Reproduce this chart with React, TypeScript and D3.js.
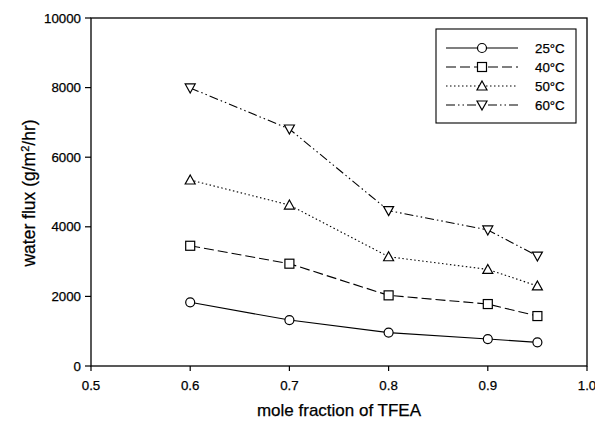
import React from "react";
import * as d3 from "d3";

// mole fraction of TFEA
const moleFractions = [0.6, 0.7, 0.8, 0.9, 0.95];

// water flux (g/m2/hr) per temperature
const flux25 = [1830, 1320, 960, 775, 680];
const flux40 = [3455, 2940, 2030, 1780, 1435];
const flux50 = [5345, 4625, 3140, 2775, 2300];
const flux60 = [7990, 6810, 4465, 3910, 3160];

const seriesNames = ["25°C", "40°C", "50°C", "60°C"];
const xTicks = [0.5, 0.6, 0.7, 0.8, 0.9, 1.0];
const xTickLabels = ["0.5", "0.6", "0.7", "0.8", "0.9", "1.0"];
const yTicks = [0, 2000, 4000, 6000, 8000, 10000];

const width = 595;
const height = 423;
const margin = { top: 18, right: 8, bottom: 57, left: 91 };
const font = "'Liberation Sans', Arial, sans-serif";

const dashes = ["none", "10 4", "1.5 2.5", "9 3 1.5 3 1.5 3"];
const markers = ["circle", "square", "triangle", "triangleDown"];

function Marker({ kind, x, y }) {
    const s = 4.5;
    const common = { fill: "white", stroke: "black", strokeWidth: 1.2 };
    if (kind === "circle") return <circle cx={x} cy={y} r={s} {...common} />;
    if (kind === "square")
        return <rect x={x - s} y={y - s} width={2 * s} height={2 * s} {...common} />;
    if (kind === "triangle")
        return (
            <path
                d={`M${x},${y - s - 0.5}L${x + s + 0.5},${y + s - 0.5}L${x - s - 0.5},${y + s - 0.5}Z`}
                {...common}
            />
        );
    return (
        <path
            d={`M${x},${y + s + 0.5}L${x + s + 0.5},${y - s + 0.5}L${x - s - 0.5},${y - s + 0.5}Z`}
            {...common}
        />
    );
}

export default function App() {
    const innerW = width - margin.left - margin.right;
    const innerH = height - margin.top - margin.bottom;

    const xScale = d3.scaleLinear().domain([0.5, 1.0]).range([0, innerW]);
    const yScale = d3.scaleLinear().domain([0, 10000]).range([innerH, 0]);

    const line = d3
        .line<number>()
        .x((d, i) => xScale(moleFractions[i]))
        .y((d) => yScale(d));

    const allSeries = [flux25, flux40, flux50, flux60];

    const legend = { x: 436 - margin.left, y: 29 - margin.top, w: 140, h: 94 };
    const textStyle = { stroke: "black", strokeWidth: 0.25 };

    return (
        <svg
            width={width}
            height={height}
            style={{ position: "absolute", left: 0, top: 0, background: "white" }}
        >
            <g transform={`translate(${margin.left},${margin.top})`} fontFamily={font}>
                {/* frame */}
                <rect x={0} y={0} width={innerW} height={innerH} fill="none" stroke="black" strokeWidth={1.3} />

                {/* y ticks */}
                {yTicks.map((t) => (
                    <g key={t} transform={`translate(0,${yScale(t)})`}>
                        <line x1={-6} x2={0} stroke="black" strokeWidth={1.2} />
                        <text x={-10} dy="0.35em" textAnchor="end" fontSize={13.3} {...textStyle}>
                            {t}
                        </text>
                    </g>
                ))}

                {/* x ticks */}
                {xTicks.map((t, i) => (
                    <g key={t} transform={`translate(${xScale(t)},${innerH})`}>
                        <line y1={0} y2={5} stroke="black" strokeWidth={1.2} />
                        <text y={19} dy="0.35em" textAnchor="middle" fontSize={13.3} {...textStyle}>
                            {xTickLabels[i]}
                        </text>
                    </g>
                ))}

                {/* series */}
                {allSeries.map((vals, si) => (
                    <g key={si}>
                        <path
                            d={line(vals) || ""}
                            fill="none"
                            stroke="black"
                            strokeWidth={1.1}
                            strokeDasharray={dashes[si]}
                        />
                        {vals.map((v, i) => (
                            <Marker key={i} kind={markers[si]} x={xScale(moleFractions[i])} y={yScale(v)} />
                        ))}
                    </g>
                ))}

                {/* legend */}
                <g transform={`translate(${legend.x},${legend.y})`}>
                    <rect width={legend.w} height={legend.h} fill="white" stroke="black" strokeWidth={1.1} />
                    {seriesNames.map((name, i) => {
                        const ly = 19 + i * 19;
                        return (
                            <g key={name}>
                                <line
                                    x1={10}
                                    x2={82}
                                    y1={ly}
                                    y2={ly}
                                    stroke="black"
                                    strokeWidth={1.1}
                                    strokeDasharray={dashes[i]}
                                />
                                <Marker kind={markers[i]} x={46} y={ly} />
                                <text x={99} y={ly} dy="0.35em" fontSize={13.3} {...textStyle}>
                                    {name}
                                </text>
                            </g>
                        );
                    })}
                </g>

                {/* axis titles */}
                <text
                    x={innerW / 2}
                    y={innerH + 50}
                    textAnchor="middle"
                    fontSize={17}
                    {...textStyle}
                >
                    mole fraction of TFEA
                </text>
                <text
                    transform={`translate(${29 - margin.left},${innerH / 2 + 1}) rotate(-90)`}
                    textAnchor="middle"
                    dy="0.35em"
                    fontSize={17.5}
                    {...textStyle}
                >
                    water flux (g/m
                    <tspan dy="-6" fontSize={11}>2</tspan>
                    <tspan dy="6">/hr)</tspan>
                </text>
            </g>
        </svg>
    );
}
